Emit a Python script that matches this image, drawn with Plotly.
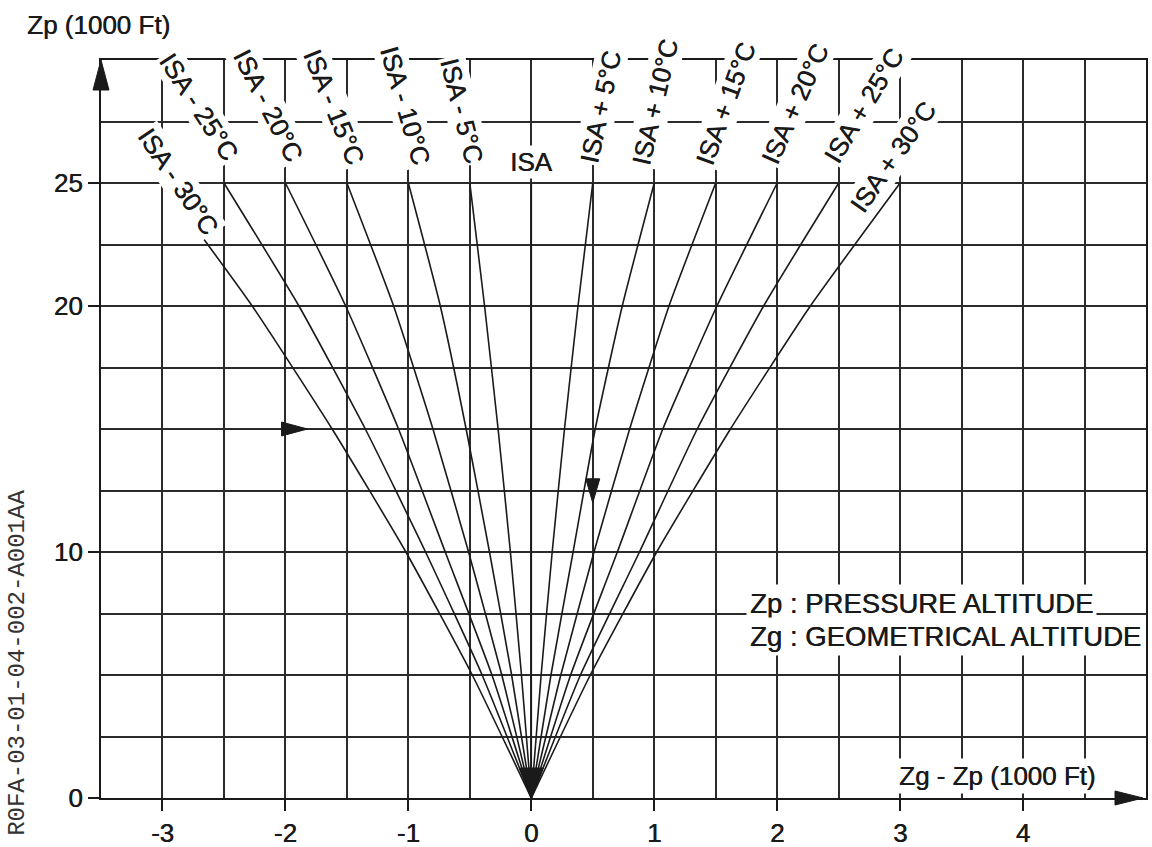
import plotly.graph_objects as go

# Pressure altitude Zp (1000 ft) at which the curves are read
ZP = [0, 5, 10, 15, 20, 25]

# Zg - Zp (1000 ft) for each temperature deviation from ISA
DZ_ISA_M30 = [0, -0.48, -1.02, -1.62, -2.27, -3.00]
DZ_ISA_M25 = [0, -0.40, -0.86, -1.35, -1.89, -2.50]
DZ_ISA_M20 = [0, -0.32, -0.70, -1.08, -1.51, -2.00]
DZ_ISA_M15 = [0, -0.24, -0.51, -0.80, -1.12, -1.50]
DZ_ISA_M10 = [0, -0.16, -0.34, -0.53, -0.74, -1.00]
DZ_ISA_M5 = [0, -0.08, -0.17, -0.27, -0.38, -0.50]
DZ_ISA = [0, 0, 0, 0, 0, 0]
DZ_ISA_P5 = [0, 0.08, 0.17, 0.27, 0.38, 0.50]
DZ_ISA_P10 = [0, 0.16, 0.34, 0.52, 0.74, 1.00]
DZ_ISA_P15 = [0, 0.24, 0.51, 0.80, 1.12, 1.50]
DZ_ISA_P20 = [0, 0.32, 0.70, 1.07, 1.51, 2.00]
DZ_ISA_P25 = [0, 0.40, 0.88, 1.35, 1.89, 2.50]
DZ_ISA_P30 = [0, 0.48, 1.02, 1.62, 2.27, 3.00]

CURVE_LABELS = ["ISA - 30°C", "ISA - 25°C", "ISA - 20°C", "ISA - 15°C",
                "ISA - 10°C", "ISA - 5°C", "ISA", "ISA + 5°C", "ISA + 10°C",
                "ISA + 15°C", "ISA + 20°C", "ISA + 25°C", "ISA + 30°C"]

X_TICKS = [-3, -2, -1, 0, 1, 2, 3, 4]
Y_TICKS = [0, 10, 20, 25]

# Worked example: Zp = 15000 ft, read result Zg - Zp = +500 ft
EXAMPLE_ZP = 15
EXAMPLE_RESULT = 0.5

curves = [DZ_ISA_M30, DZ_ISA_M25, DZ_ISA_M20, DZ_ISA_M15, DZ_ISA_M10, DZ_ISA_M5,
          DZ_ISA, DZ_ISA_P5, DZ_ISA_P10, DZ_ISA_P15, DZ_ISA_P20, DZ_ISA_P25, DZ_ISA_P30]

# label placement relative to the top end of each curve (pixels) and rotation
label_shift = [(16, 1), (-25, 76), (-17, 77), (-13, 76), (-3, 77), (-8, 72), (0, 21),
               (8, 76), (1, 81), (10, 79), (18, 79), (25, 77), (-7, 26)]
label_angle = [56, 57, 63, 68, 74, 76, 0, -78, -77, -70, -66, -59, -55]

FONT = "Liberation Sans, Arial, Helvetica, sans-serif"
INK = "#1a1a1a"
GRID = "#2b2b2b"
HEAVY = "0.5px 0 0 #1a1a1a"


def text_font(size, family=FONT, color=INK, shadow=HEAVY):
    return dict(family=family, size=size, color=color, shadow=shadow)


fig = go.Figure()

for dz, name in zip(curves, CURVE_LABELS):
    fig.add_trace(go.Scatter(
        x=dz, y=ZP, mode="lines", name=name,
        line=dict(color=INK, width=1.6, shape="spline", smoothing=0.5),
        hoverinfo="skip", showlegend=False,
    ))

annotations = []
for dz, name, (dx, dy), ang in zip(curves, CURVE_LABELS, label_shift, label_angle):
    annotations.append(dict(
        x=dz[-1], y=ZP[-1], xref="x", yref="y", text=name, showarrow=False,
        xshift=dx, yshift=dy, textangle=ang, bgcolor="white", borderpad=1,
        font=text_font(26),
    ))

annotations += [
    dict(x=-0.073, y=1.047, xref="paper", yref="paper", text="Zp (1000 Ft)",
         xanchor="left", yanchor="middle", showarrow=False, font=text_font(26)),
    dict(x=3.79, y=0.9, xref="x", yref="y", text="Zg - Zp (1000 Ft)",
         xanchor="center", yanchor="middle", showarrow=False, bgcolor="white",
         borderpad=2, font=text_font(26)),
    dict(x=1.75, y=7.9, xref="x", yref="y", text="Zp : PRESSURE ALTITUDE",
         xanchor="left", yanchor="middle", showarrow=False, bgcolor="white",
         borderpad=3, font=text_font(27.5)),
    dict(x=1.75, y=6.55, xref="x", yref="y", text="Zg : GEOMETRICAL ALTITUDE",
         xanchor="left", yanchor="middle", showarrow=False, bgcolor="white",
         borderpad=3, font=text_font(27.5)),
    dict(x=-0.0795, y=0.183, xref="paper", yref="paper", text="R0FA-03-01-04-002-A001AA",
         textangle=-90, showarrow=False, xanchor="center", yanchor="middle",
         font=dict(family="Liberation Mono, Courier New, monospace", size=24,
                   color="#333333")),
]

x_lo, x_hi = -3.5, 5.0
y_lo, y_hi = 0.0, 30.0


def head(ref_x, ref_y, xa, ya, path):
    return dict(type="path", xref=ref_x, yref=ref_y, xsizemode="pixel", ysizemode="pixel",
                xanchor=xa, yanchor=ya, path=path, fillcolor=INK,
                line=dict(color=INK, width=1), layer="above")


shapes = [
    head("paper", "paper", 0, 1, "M0,0 L-8,-30 L8,-30 Z"),            # Zp axis arrow
    head("paper", "paper", 1, 0, "M-3,0 L-31,7 L-31,-7 Z"),           # Zg - Zp axis arrow
    head("x", "y", 0, 0, "M0,0 L-12,30 L12,30 Z"),                    # fan origin
    head("x", "y", -1.82, EXAMPLE_ZP, "M0,0 L-26,-7 L-26,7 Z"),       # example: entry at Zp
    head("x", "y", EXAMPLE_RESULT, 12.0, "M0,0 L-7,24 L7,24 Z"),      # example: read-out
]

axis_common = dict(
    showline=True, linecolor=INK, linewidth=2.2, mirror=True,
    ticks="outside", ticklen=11, tickwidth=2, tickcolor=INK,
    showgrid=True, gridcolor=GRID, gridwidth=1.6, zeroline=False,
    tickfont=text_font(26), automargin=False,
)

fig.update_layout(
    width=1152, height=847,
    margin=dict(l=101, r=6, t=60, b=49, autoexpand=False),
    paper_bgcolor="white", plot_bgcolor="white",
    xaxis=dict(range=[x_lo, x_hi], tickmode="array", tickvals=X_TICKS,
               ticktext=[str(v) for v in X_TICKS],
               minor=dict(tickmode="linear", tick0=0, dtick=0.5, showgrid=True,
                          gridcolor=GRID, gridwidth=1.6, ticks=""),
               **axis_common),
    yaxis=dict(range=[y_lo, y_hi], tickmode="array", tickvals=Y_TICKS,
               ticktext=[str(v) for v in Y_TICKS],
               minor=dict(tickmode="linear", tick0=0, dtick=2.5, showgrid=True,
                          gridcolor=GRID, gridwidth=1.6, ticks=""),
               **axis_common),
    annotations=annotations,
    shapes=shapes,
    showlegend=False,
)

fig.write_html("out.html")
